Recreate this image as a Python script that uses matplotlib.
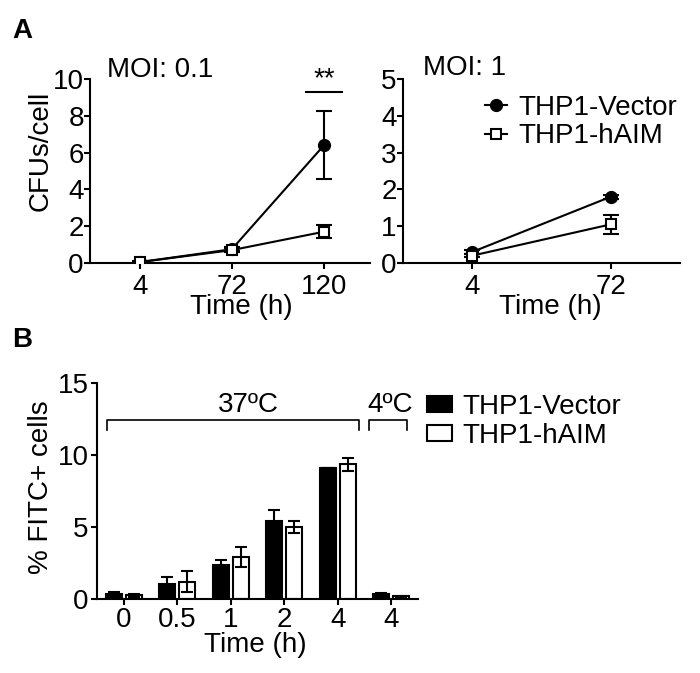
import matplotlib.pyplot as plt
from matplotlib.patches import Patch
import numpy as np

plt.rcParams['font.family'] = ['Liberation Sans', 'DejaVu Sans']
plt.rcParams['font.size'] = 20

# panel A, MOI 0.1
moi01_times = ["4", "72", "120"]
moi01_vector = [0.05, 0.75, 6.4]
moi01_vector_err = [0.05, 0.1, 1.85]
moi01_haim = [0.05, 0.7, 1.7]
moi01_haim_err = [0.05, 0.1, 0.35]

# panel A, MOI 1
moi1_times = ["4", "72"]
moi1_vector = [0.3, 1.8]
moi1_vector_err = [0.05, 0.05]
moi1_haim = [0.2, 1.05]
moi1_haim_err = [0.05, 0.25]

# panel B, uptake (last group is 4 C)
uptake_times = ["0", "0.5", "1", "2", "4", "4"]
uptake_vector = [0.35, 1.05, 2.35, 5.4, 9.1, 0.37]
uptake_vector_err = [0.1, 0.45, 0.35, 0.75, 0.0, 0.05]
uptake_haim = [0.25, 1.2, 2.9, 5.0, 9.35, 0.2]
uptake_haim_err = [0.1, 0.75, 0.7, 0.4, 0.45, 0.03]

names = ["THP1-Vector", "THP1-hAIM"]
LW = 1.5


def style_axis(ax):
  for side in ["top", "right"]:
    ax.spines[side].set_visible(False)
  for side in ["left", "bottom"]:
    ax.spines[side].set_linewidth(LW)
  ax.tick_params(width=LW, length=4, labelsize=20)


def plot_lines(ax, times, vec, vecErr, haim, haimErr):
  x = np.arange(len(times))
  ax.errorbar(x, vec, yerr=vecErr, fmt="none", ecolor="k", elinewidth=LW, capsize=6, capthick=LW, zorder=2)
  ax.plot(x, vec, color="k", lw=LW, marker="o", ms=8.5, label=names[0], zorder=3)
  ax.errorbar(x, haim, yerr=haimErr, fmt="none", ecolor="k", elinewidth=LW, capsize=6, capthick=LW, zorder=4)
  ax.plot(x, haim, color="k", lw=LW, marker="s", ms=7, mfc="white", mec="k", mew=LW, label=names[1], zorder=5)
  ax.set_xticks(x)
  ax.set_xticklabels(times)
  style_axis(ax)
  ax.tick_params(axis="x", pad=4)
  ax.tick_params(axis="y", pad=0.5)


fig = plt.figure(figsize=(7, 6.73), dpi=100)

# A left
ax1 = fig.add_axes([0.1286, 0.6092, 0.4, 0.2734])
plot_lines(ax1, moi01_times, moi01_vector, moi01_vector_err, moi01_haim, moi01_haim_err)
ax1.set_xlim(-0.54, 2.5)
ax1.set_ylim(0, 10)
ax1.set_yticks([0, 2, 4, 6, 8, 10])
ax1.set_ylabel("CFUs/cell", va="center")
ax1.yaxis.set_label_coords(-0.175, 0.609)
ax1.set_xlabel("Time (h)", va="center")
ax1.xaxis.set_label_coords(0.541, -0.238)
ax1.text(0.06, 1.05, "MOI: 0.1", transform=ax1.transAxes, va="center", ha="left")
ax1.plot([1.8, 2.2], [9.3, 9.3], color="k", lw=LW, clip_on=False)
ax1.text(2, 10.0, "**", ha="center", va="center")

# A right
ax2 = fig.add_axes([0.5757, 0.6092, 0.3957, 0.2734])
plot_lines(ax2, moi1_times, moi1_vector, moi1_vector_err, moi1_haim, moi1_haim_err)
ax2.set_xlim(-0.5, 1.5)
ax2.set_ylim(0, 5)
ax2.set_yticks([0, 1, 2, 3, 4, 5])
ax2.set_xlabel("Time (h)", va="center")
ax2.xaxis.set_label_coords(0.531, -0.238)
ax2.text(0.072, 1.06, "MOI: 1", transform=ax2.transAxes, va="center", ha="left")
ax2.legend(loc="upper left", bbox_to_anchor=(0.296, 0.915), frameon=False,
           handlelength=0.8, handletextpad=0.4, borderpad=0, borderaxespad=0,
           labelspacing=0.1, fontsize=20)

# B
ax3 = fig.add_axes([0.1386, 0.11, 0.4586, 0.321])
x = np.arange(len(uptake_times))
w = 0.3
off = 0.19
ax3.bar(x - off, uptake_vector, w, color="k", edgecolor="k", lw=LW, zorder=2)
ax3.errorbar(x - off, uptake_vector, yerr=uptake_vector_err, fmt="none", ecolor="k",
             elinewidth=LW, capsize=4.3, capthick=LW, zorder=3)
ax3.bar(x + off, uptake_haim, w, color="white", edgecolor="k", lw=LW, zorder=2)
ax3.errorbar(x + off, uptake_haim, yerr=uptake_haim_err, fmt="none", ecolor="k",
             elinewidth=LW, capsize=4.3, capthick=LW, zorder=3)
ax3.set_xticks(x)
ax3.set_xticklabels(uptake_times)
ax3.set_xlim(-0.5, 5.5)
ax3.set_ylim(0, 15)
ax3.set_yticks([0, 5, 10, 15])
style_axis(ax3)
ax3.tick_params(axis="x", pad=2)
ax3.tick_params(axis="y", pad=2)
ax3.set_ylabel("% FITC+ cells", va="center")
ax3.yaxis.set_label_coords(-0.174, 0.518)
ax3.set_xlabel("Time (h)", va="center")
ax3.xaxis.set_label_coords(0.492, -0.213)

# temperature brackets
ax3.plot([-0.32, -0.32, 4.4, 4.4], [11.7, 12.4, 12.4, 11.7], color="k", lw=1.2, clip_on=False)
ax3.plot([4.59, 4.59, 5.3, 5.3], [11.7, 12.4, 12.4, 11.7], color="k", lw=1.2, clip_on=False)
ax3.text(2.33, 12.6, "37ºC", ha="center", va="bottom")
ax3.text(4.98, 12.6, "4ºC", ha="center", va="bottom")

handles = [Patch(facecolor="k", edgecolor="k", lw=LW), Patch(facecolor="white", edgecolor="k", lw=LW)]
ax3.legend(handles, names, loc="upper left", bbox_to_anchor=(1.028, 0.95), frameon=False,
           handlelength=0.9, handleheight=0.5, handletextpad=0.36, borderpad=0,
           borderaxespad=0, labelspacing=0.1, fontsize=20)

fig.text(12 / 700, 1 - 31 / 673, "A", fontsize=20, fontweight="bold", va="center", ha="left")
fig.text(12 / 700, 1 - 340 / 673, "B", fontsize=20, fontweight="bold", va="center", ha="left")

fig.savefig("out.png", dpi=100)
